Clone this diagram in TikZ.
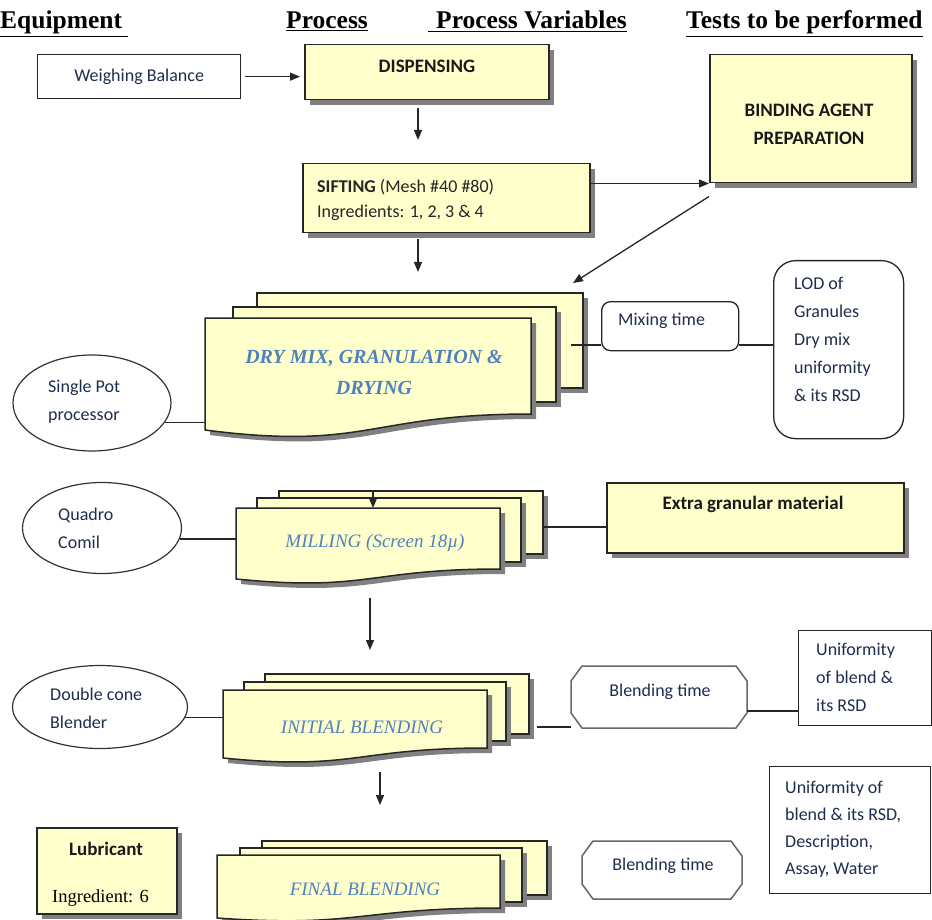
\documentclass[tikz,border=0pt]{standalone}
\usepackage{fontspec}
\setmainfont{Carlito}
\newfontfamily\timesf{Liberation Serif}
\usetikzlibrary{shadows,arrows.meta,shapes.geometric}
\definecolor{docyel}{HTML}{FFFFCC}
\definecolor{procblue}{HTML}{4F81BD}
\definecolor{txtblue}{HTML}{1F2D4D}
\begin{document}
\begin{tikzpicture}[x=1pt,y=-1pt,
 shd/.style={drop shadow={shadow xshift=5pt,shadow yshift=-5pt,fill=black!50,opacity=1}},
 ybox/.style={draw=black!85,line width=1.5pt,fill=docyel,shd,inner sep=0,anchor=north west},
 wbox/.style={draw=black!85,line width=1.3pt,fill=white,inner sep=0,anchor=north west},
 page/.style={draw=black!85,line width=1.5pt,fill=docyel,shd},
 conn/.style={draw=black!85,line width=1.3pt},
 arr/.style={conn,-{Triangle[length=10pt,width=8pt]}},
 oval/.style={ellipse,draw=black!80,line width=1.2pt,fill=white,inner sep=0},
 octl/.style={draw=black!60,line width=1.5pt,fill=white},
 cal/.style={font=\fontsize{18}{28}\selectfont,text=txtblue,inner sep=0,align=left},
 calb/.style={font=\fontsize{19}{28}\selectfont\bfseries,text=black!90,inner sep=0,align=center},
 proc/.style={font=\timesf\fontsize{19}{31}\selectfont\itshape,text=procblue,inner sep=0,align=center},
 hdr/.style={font=\timesf\fontsize{25.5}{30}\selectfont\bfseries,inner sep=0,anchor=base west}]

\useasboundingbox[fill=white] (0,0) rectangle (932,920);

% headers
\node[hdr] (h1) at (0,29) {\underline{Equipment\hspace{6pt}}};
\node[hdr] (h2) at (286,29) {\underline{Process}};
\node[hdr] (h3) at (428,29) {\underline{\hspace{8pt}Process Variables}};
\node[hdr] (h4) at (686,29) {\underline{Tests to be performed}};

% helper coordinates
\coordinate (c418) at (418,0);
\coordinate (dmL) at (205,0);
\coordinate (mlL) at (236,0);
\coordinate (ibL) at (223,0);

% top boxes
\node[wbox,minimum width=203pt,minimum height=44pt] (wb) at (37,54) {};
\node[cal] (wbt) at (wb.center) {Weighing Balance};
\node[ybox,minimum width=244pt,minimum height=55pt] (disp) at (304,44) {};
\node[calb] (dispt) at (427,66) {DISPENSING};
\node[ybox,minimum width=287pt,minimum height=69pt] (sift) at (302,163) {};
\node[cal,anchor=west,text=black!85] (sift1) at (317,187) {\textbf{SIFTING} (Mesh \#40 \#80)};
\node[cal,anchor=west,text=black!85] (sift2) at (317,213) {Ingredients: 1, 2, 3 \& 4};
\node[ybox,minimum width=202pt,minimum height=128pt] (bind) at (709,54) {};
\node[calb] (bindt) at (809,124) {BINDING AGENT\\PREPARATION};

\draw[arr,shorten <=4pt,shorten >=4pt] (wb.east) -- (wb.east -| disp.west);
\draw[arr,shorten <=8pt,shorten >=23pt] (disp.south -| c418) -- (sift.north -| c418);
\draw[arr] (sift.east |- bind.south west) -- (bind.south west);
\coordinate (dmin) at (418,272);
\coordinate (dmin2) at (573,283);
\draw[arr,shorten <=6pt] (sift.south -| c418) -- (dmin);
\draw[arr] ([yshift=-13pt]bind.south west) -- (dmin2);

% dry mix stack
\path[page] (257,293) rectangle (583,388);
\path[page] (233,307) rectangle (556,402);
\path[page] (205,318) -- (531,318) -- (531,414) .. controls (368,414) and (368,451) .. (205,430) -- cycle;
\node[proc,font=\timesf\fontsize{20}{31}\selectfont\bfseries\itshape] (dmt) at (374,372) {DRY MIX, GRANULATION \&\\DRYING};

\node[oval,minimum width=158pt,minimum height=96pt] (spp) at (92,403) {};
\node[cal,anchor=base west] (sppt) at (48,420) {Single Pot\\processor};
\draw[conn] (spp.-15.6) -- (spp.-15.6 -| dmL);

\node[wbox,rounded corners=9pt,minimum width=137pt,minimum height=49pt] (mix) at (601,301) {};
\node[cal,anchor=west] (mixt) at (618,321) {Mixing time};
\node[wbox,rounded corners=22pt,minimum width=130pt,minimum height=178pt] (lod) at (773,260) {};
\node[cal,anchor=base west] (lodt) at (794,401) {LOD of\\Granules\\Dry mix\\uniformity\\\& its RSD};
\coordinate (dmr) at (571,345);
\draw[conn] (dmr) -- (dmr -| mix.west);
\draw[conn] (mix.east |- dmr) -- (lod.west |- dmr);

% milling stack
\path[page] (279,491) rectangle (543,554);
\path[page] (257,498) rectangle (521,562);
\path[page] (236,508) -- (500,508) -- (500,569) .. controls (368,569) and (368,592) .. (236,579) -- cycle;
\node[proc] (mlt) at (375,543) {MILLING (Screen 18µ)};
\coordinate (mtop) at (373,491);
\coordinate (mtip) at (373,508);
\draw[arr] (mtop) -- (mtip);

\node[oval,minimum width=159pt,minimum height=91pt] (qc) at (102,528) {};
\node[cal,anchor=base west] (qct) at (58,548) {Quadro\\Comil};
\draw[conn] (qc.-8.9) -- (qc.-8.9 -| mlL);

\node[ybox,minimum width=297pt,minimum height=70pt] (extra) at (606,482) {};
\node[calb] (extrat) at (753,504) {Extra granular material};
\coordinate (mlr) at (543,527);
\draw[conn] (mlr) -- (mlr -| extra.west);

\coordinate (a3s) at (370,598);
\coordinate (a3e) at (370,650);
\draw[arr] (a3s) -- (a3e);

% initial blending
\path[page] (265,674) rectangle (529,734);
\path[page] (244,682) rectangle (506,741);
\path[page] (223,690) -- (487,690) -- (487,748) .. controls (355,748) and (355,771) .. (223,758) -- cycle;
\node[proc] (ibt) at (362,727) {INITIAL BLENDING};

\node[oval,minimum width=175pt,minimum height=83pt] (dcb) at (100,707) {};
\node[cal,anchor=base west] (dcbt) at (50,728) {Double cone\\Blender};
\draw[conn] (dcb.-7.4) -- (dcb.-7.4 -| ibL);

\path[octl] (582,666) -- (736,666) -- (747,681) -- (747,713) -- (736,728) -- (582,728) -- (571,713) -- (571,681) -- cycle;
\node[cal] (bt1) at (660,692) {Blending time};
\coordinate (ibr) at (537,727);
\coordinate (o1l) at (571,727);
\draw[conn] (ibr) -- (o1l);

\node[wbox,minimum width=133pt,minimum height=95pt] (u1) at (798,630) {};
\node[cal,anchor=base west] (u1t) at (816,711) {Uniformity\\of blend \&\\its RSD};
\coordinate (o1r) at (747,711);
\draw[conn] (o1r) -- (o1r -| u1.west);

\coordinate (a4s) at (380,772);
\coordinate (a4e) at (380,805);
\draw[arr] (a4s) -- (a4e);

% final blending
\path[page] (262,841) rectangle (547,895);
\path[page] (240,848) rectangle (522,902);
\path[page] (217,855) -- (500,855) -- (500,908) .. controls (358,908) and (358,928) .. (217,918) -- cycle;
\node[proc] (fbt) at (365,889) {FINAL BLENDING};

\path[octl] (593,841) -- (731,841) -- (742,856) -- (742,884) -- (731,899) -- (593,899) -- (582,884) -- (582,856) -- cycle;
\node[cal] (bt2) at (663,866) {Blending time};

\node[wbox,minimum width=161pt,minimum height=127pt] (u2) at (769,766) {};
\node[cal,anchor=base west,font=\fontsize{18}{27}\selectfont] (u2t) at (785,874) {Uniformity of\\blend \& its RSD,\\Description,\\Assay, Water};

\node[ybox,minimum width=140pt,minimum height=86pt] (lub) at (36,827) {};
\node[calb] (lubt) at (106,849) {Lubricant};
\node[font=\timesf\fontsize{18.5}{22}\selectfont,anchor=base west,inner sep=0] (lubi) at (52,902) {Ingredient: 6};
\end{tikzpicture}
\end{document}
